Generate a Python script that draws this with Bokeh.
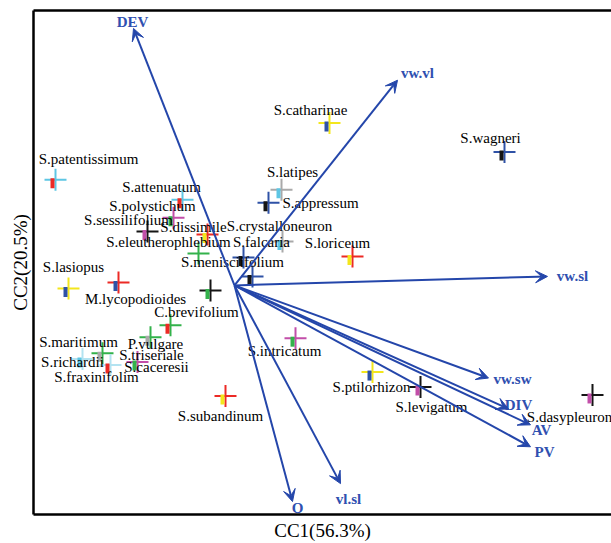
import numpy as np
from bokeh.plotting import figure
from bokeh.models import (ColumnDataSource, Arrow, VeeHead, Range1d,
                          LinearAxis, FixedTicker, Title)
from bokeh.embed import file_html
from bokeh.resources import INLINE
from bokeh.core.properties import value

# ---------------- data ----------------
species = ["S.patentissimum", "S.attenuatum", "S.polystichum", "S.sessilifolium",
           "S.dissimile", "S.eleutherophlebium", "S.crystalloneuron", "S.falcaria",
           "S.menisciifolium", "S.lasiopus", "M.lycopodioides", "C.brevifolium",
           "P.vulgare", "S.maritimum", "S.richardii", "S.fraxinifolim",
           "S.triseriale", "S.caceresii", "S.subandinum", "S.catharinae",
           "S.wagneri", "S.latipes", "S.appressum", "S.loriceum",
           "S.intricatum", "S.ptilorhizon", "S.levigatum", "S.dasypleuron"]
cc1 = [-1.79, -0.52, -0.61, -0.87, -0.27, 0.18, 0.48, 0.09,
       -0.36, -1.66, -1.16, -0.24, -0.64, -1.32, -1.52, -1.24,
       -0.84, -0.97, -0.09, 0.95, 2.70, 0.47, 0.34, 1.18,
       0.61, 1.38, 1.86, 3.58]
cc2 = [1.06, 0.86, 0.68, 0.54, 0.51, 0.09, 0.44, 0.28,
       0.32, -0.03, 0.03, -0.05, -0.40, -0.68, -0.74, -0.80,
       -0.52, -0.77, -1.11, 1.63, 1.34, 0.96, 0.83, 0.29,
       -0.53, -0.87, -1.02, -1.10]

variables = ["DEV", "vw.vl", "vw.sl", "vw.sw", "DIV", "AV", "PV", "vl.sl", "O"]
var_cc1 = [-1.01, 1.63, 3.13, 2.54, 2.74, 2.96, 2.96, 1.06, 0.58]
var_cc2 = [2.58, 2.06, 0.09, -0.93, -1.24, -1.40, -1.62, -1.99, -2.17]

x_title = "CC1(56.3%)"
y_title = "CC2(20.5%)"

# ---------------- styles ----------------
CY, RD, MG, GN, BK = "#5ec6e4", "#ec2a25", "#c24ea9", "#33b24b", "#151515"
YL, BL, GY, LC = "#f3e61c", "#2f52a6", "#a9a9a9", "#b3e3f1"
cross_col = [CY, CY, MG, BK, RD, BL, GY, BL, GN, YL, RD, BK, GN, GN, LC, LC,
             GN, MG, RD, YL, BL, GY, BL, RD, MG, YL, BK, BK]
bar_col = [RD, RD, GN, MG, YL, BK, CY, BK, None, BL, BL, GN, RD, GY, CY, RD,
           GY, GN, YL, BL, BK, CY, BK, YL, GN, BL, MG, MG]
# label offsets in screen pixels (right / down)
lab_dx = [33, -21, -21, -19, -14, -84, -3, 18, 34, 5, 17, -14, -15, -24, -10, -14,
          1, 19, -5, -19, -14, 11, 52, -15, -11, -1, 11, -23]
lab_dy = [-21, -13, -12, -12, -8, -34, -16, -16, 8, -21, 17, 22, 19, -11, 3, 12,
          18, 5, 20, -13, -14, -18, 0, -14, 13, 15, 20, 22]
var_dx = [-1, 20, 25, 24, 10, 11, 14, 8, 5]
var_dy = [-6, -7, 0, 1, -4, 5, 5, 15, 6]

ARROW = "#2446aa"
VARTXT = "#2f50b0"
SERIF = "Liberation Serif"

p = figure(width=611, height=543, x_range=Range1d(-2.01, 3.77),
           y_range=Range1d(-2.30, 2.76), output_backend="svg",
           toolbar_location=None, x_axis_location=None, y_axis_location=None,
           min_border_left=33, min_border_right=0, min_border_top=10,
           min_border_bottom=27)
p.outline_line_color = None
p.background_fill_color = "white"
p.border_fill_color = "white"
for r in list(p.center):
    r.visible = False


def frame_axis(**kw):
    return LinearAxis(ticker=FixedTicker(ticks=[]), axis_line_width=2.5,
                      axis_line_color="black", major_tick_line_color=None,
                      minor_tick_line_color=None, major_tick_out=0, major_tick_in=0,
                      minor_tick_out=0, minor_tick_in=0, major_label_standoff=0,
                      major_label_text_font_size="0px", **kw)


p.add_layout(frame_axis(axis_label=x_title, axis_label_standoff=5,
                        axis_label_text_font=SERIF, axis_label_text_font_size="19px",
                        axis_label_text_font_style="normal",
                        axis_label_text_color="black"), "below")
p.add_layout(frame_axis(), "left")
p.add_layout(frame_axis(), "above")
p.add_layout(Title(text=y_title, align="center", offset=50, standoff=5,
                   text_font=SERIF, text_font_size="19px", text_font_style="normal",
                   text_color="black"), "left")

# arrows
vsrc = ColumnDataSource(dict(x0=[0.0] * len(variables), y0=[0.0] * len(variables),
                             x1=var_cc1, y1=var_cc2, name=variables,
                             dx=var_dx, dy=var_dy))
p.add_layout(Arrow(source=vsrc, x_start="x0", y_start="y0", x_end="x1", y_end="y1",
                   line_color=ARROW, line_width=2,
                   end=VeeHead(size=12, fill_color=ARROW, line_color=ARROW,
                               line_width=1)))
p.text(x="x1", y="y1", text="name", source=vsrc, x_offset="dx", y_offset="dy",
       text_align="center", text_baseline="middle", text_color=VARTXT,
       text_font=value(SERIF), text_font_style="bold", text_font_size="15px")

# species points
ssrc = ColumnDataSource(dict(x=cc1, y=cc2, name=species, c=cross_col,
                             dx=lab_dx, dy=lab_dy))
p.scatter(x="x", y="y", source=ssrc, marker="cross", size=22, line_width=2,
          line_color="c")
bx = [x - 0.03 for x, b in zip(cc1, bar_col) if b]
by = [y - 0.035 for y, b in zip(cc2, bar_col) if b]
bc = [b for b in bar_col if b]
p.rect(x=bx, y=by, width=4, height=10, width_units="screen", height_units="screen",
       fill_color=bc, line_color=None)
p.text(x="x", y="y", text="name", source=ssrc, x_offset="dx", y_offset="dy",
       text_align="center", text_baseline="middle", text_color="black",
       text_font=value(SERIF), text_font_size="15px")

open("out.html", "w").write(file_html(p, INLINE))
